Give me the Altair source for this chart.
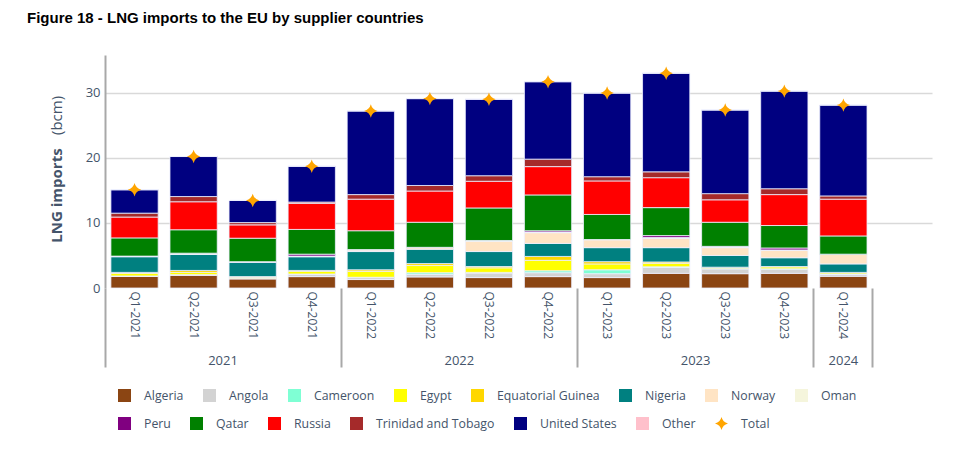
import altair as alt
import pandas as pd

# ---------------- data (bcm) ----------------
quarters = ["Q1-2021", "Q2-2021", "Q3-2021", "Q4-2021",
            "Q1-2022", "Q2-2022", "Q3-2022", "Q4-2022",
            "Q1-2023", "Q2-2023", "Q3-2023", "Q4-2023",
            "Q1-2024"]

algeria  = [1.80, 1.95, 1.40, 1.75, 1.30, 1.70, 1.60, 1.75, 1.60, 2.25, 2.20, 2.25, 1.80]
angola   = [0.05, 0.10, 0.05, 0.40, 0.30, 0.40, 0.70, 0.60, 0.60, 0.90, 0.75, 0.65, 0.30]
cameroon = [0.00, 0.00, 0.00, 0.00, 0.05, 0.25, 0.10, 0.30, 0.60, 0.10, 0.00, 0.05, 0.05]
egypt    = [0.40, 0.35, 0.15, 0.40, 0.90, 1.10, 0.70, 1.60, 0.90, 0.55, 0.15, 0.30, 0.20]
eq_guinea = [0.15, 0.30, 0.15, 0.15, 0.25, 0.30, 0.20, 0.60, 0.35, 0.20, 0.10, 0.05, 0.05]
nigeria  = [2.40, 2.45, 2.20, 2.10, 2.80, 2.20, 2.30, 2.00, 2.15, 2.20, 1.80, 1.35, 1.30]
norway   = [0.10, 0.15, 0.10, 0.10, 0.25, 0.25, 1.60, 1.65, 1.20, 1.40, 1.20, 1.15, 1.45]
oman     = [0.00, 0.05, 0.00, 0.00, 0.05, 0.05, 0.10, 0.10, 0.05, 0.15, 0.10, 0.05, 0.05]
peru     = [0.00, 0.00, 0.00, 0.30, 0.00, 0.00, 0.00, 0.20, 0.00, 0.30, 0.10, 0.30, 0.00]
qatar    = [2.80, 3.60, 3.60, 3.80, 2.90, 3.85, 5.00, 5.50, 3.85, 4.30, 3.70, 3.45, 2.80]
russia   = [3.20, 4.30, 2.05, 4.00, 4.85, 4.80, 4.10, 4.35, 5.15, 4.60, 3.45, 4.75, 5.65]
trinidad = [0.60, 0.80, 0.35, 0.20, 0.70, 0.85, 0.85, 1.15, 0.65, 0.90, 0.95, 0.90, 0.50]
united_states = [3.60, 6.15, 3.40, 5.50, 12.85, 13.35, 11.75, 11.90, 12.85, 15.15, 12.85, 15.00, 13.95]
other    = [0.00, 0.00, 0.00, 0.00, 0.00, 0.00, 0.00, 0.00, 0.00, 0.00, 0.00, 0.00, 0.00]

series_names = ["Algeria", "Angola", "Cameroon", "Egypt", "Equatorial Guinea",
                "Nigeria", "Norway", "Oman", "Peru", "Qatar", "Russia",
                "Trinidad and Tobago", "United States", "Other"]
series_values = [algeria, angola, cameroon, egypt, eq_guinea, nigeria, norway,
                 oman, peru, qatar, russia, trinidad, united_states, other]
series_colors = ["#8B4513", "#D3D3D3", "#7FFFD4", "#FFFF00", "#FFD700",
                 "#008080", "#FFE4C4", "#F5F5DC", "#800080", "#008000",
                 "#FF0000", "#A52A2A", "#000080", "#FFC0CB"]
total_color = "#FFA500"

# ---------------- table ----------------
rows = []
for k, (name, vals) in enumerate(zip(series_names, series_values)):
    for q, v in zip(quarters, vals):
        rows.append({"quarter": q, "series": name, "value": v, "order": k})
df = pd.DataFrame(rows)

all_domain = series_names + ["Total"]
all_colors = series_colors + [total_color]
STAR = "M0,-1 Q0.2,-0.2 1,0 Q0.2,0.2 0,1 Q-0.2,0.2 -1,0 Q-0.2,-0.2 0,-1 Z"
shape_range = ["square"] * len(series_names) + [STAR]
row1 = series_names[:8]
row2 = series_names[8:] + ["Total"]

FONT = "Open Sans"
TXT = "#44546a"
x_domain = quarters + [""]

x_scale = alt.Scale(domain=x_domain, paddingInner=0, paddingOuter=0)
y_scale = alt.Scale(domain=[0, 35.8], nice=False)
color_scale = alt.Scale(domain=series_names, range=series_colors)
fill_scale = alt.Scale(domain=all_domain, range=all_colors)
shape_scale = alt.Scale(domain=all_domain, range=shape_range)


def make_legend(values, y):
    return alt.Legend(
        title=None, orient="none", legendX=13, legendY=y, values=values,
        direction="horizontal", columns=len(values),
        columnPadding=19, symbolSize=169, labelOffset=13,
        labelFont=FONT, labelFontSize=12.3, labelColor=TXT,
        symbolStrokeWidth=0, padding=0,
    )


legend_row1 = make_legend(row1, 334)
legend_row2 = make_legend(row2, 362)

bars = alt.Chart(df).mark_bar(
    width=alt.RelativeBandSize(0.8), stroke="#eef0ff", strokeWidth=0.8
).encode(
    x=alt.X("quarter:N", scale=x_scale, axis=alt.Axis(
        title=None, labelAngle=90, labelAlign="left", labelBaseline="middle",
        labelPadding=3, ticks=False, domain=False, grid=False,
        labelFont=FONT, labelFontSize=12, labelColor=TXT)),
    y=alt.Y("value:Q", stack="zero", scale=y_scale, axis=alt.Axis(
        title="LNG imports", titleFont=FONT, titleFontSize=15,
        titleFontWeight="bold", titleColor=TXT, titleX=-44, titleY=140,
        titleBaseline="alphabetic",
        values=[0, 10, 20, 30], grid=True, gridColor="#d9d9d9", gridWidth=1.5,
        gridOpacity={"condition": {"test": "datum.value === 0", "value": 0}, "value": 1},
        domain=True, domainColor="#a8a8a8", domainWidth=2, ticks=False,
        labelPadding=5, labelFont=FONT, labelFontSize=13, labelColor=TXT)),
    color=alt.Color("series:N", scale=color_scale, legend=legend_row1),
    order=alt.Order("order:Q", sort="ascending"),
)

stars = alt.Chart(df).transform_aggregate(
    total="sum(value)", groupby=["quarter"]
).transform_calculate(
    series="'Total'"
).mark_point(filled=True, opacity=1, size=180).encode(
    x=alt.X("quarter:N", scale=x_scale, axis=alt.Axis(
        orient="bottom", title=None,
        values=["Q1-2021", "Q1-2022", "Q1-2023", "Q1-2024", ""],
        bandPosition=0, ticks=True, tickSize=79, tickColor="#a8a8a8", tickWidth=2,
        domain=False, grid=False, labelAngle=0, labelAlign="center",
        labelBaseline="top", labelExpr="slice(datum.value, 3)", labelPadding=-13,
        labelOffset={"condition": {"test": "datum.value === 'Q1-2024'", "value": 0}, "value": 88.5},
        labelFont=FONT, labelFontSize=13, labelColor=TXT)),
    y=alt.Y("total:Q", scale=y_scale, axis=alt.Axis(
        orient="left", title="(bcm)", titleFont=FONT, titleFontSize=15,
        titleFontWeight="normal", titleColor=TXT, titleX=-44, titleY=60,
        titleBaseline="alphabetic",
        labels=False, ticks=False, domain=False, grid=False)),
    fill=alt.Fill("series:N", scale=fill_scale, legend=legend_row2),
    shape=alt.Shape("series:N", scale=shape_scale, legend=legend_row2),
)

chart = alt.layer(bars, stars).resolve_axis(
    x="independent", y="independent"
).properties(
    width=827, height=233,
    autosize=alt.AutoSizeParams(type="none"),
    padding={"left": 97, "top": 47, "right": 20, "bottom": 150},
    title=alt.TitleParams(
        "Figure 18 - LNG imports to the EU by supplier countries",
        anchor="start", frame="group", dx=-78, offset=17,
        baseline="alphabetic", font="Liberation Sans", fontSize=15,
        fontWeight="bold", color="#000000"),
).configure_view(stroke=None)

chart.save("out.html", embed_options={"renderer": "svg", "actions": False})
